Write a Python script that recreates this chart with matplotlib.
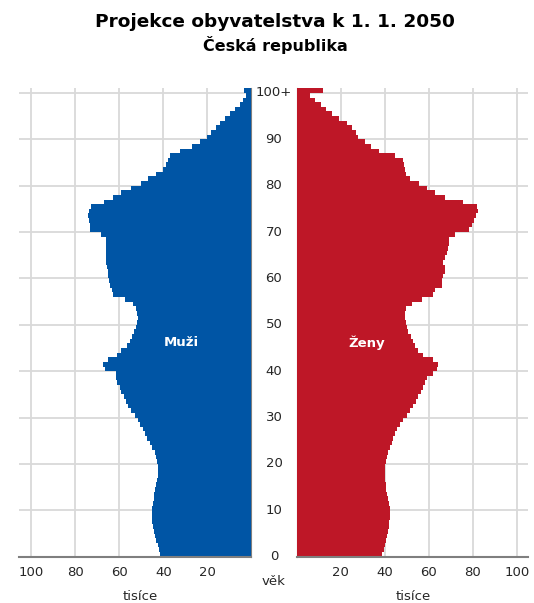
import numpy as np
import matplotlib
import matplotlib.pyplot as plt
import matplotlib.transforms as mtransforms

matplotlib.use('Agg')

# věk 0 .. 100+ (tisíce osob)
ages = np.arange(0, 101)

muzi = [41.4, 42.0, 42.6, 43.2, 43.8, 44.3, 44.7, 45.0, 45.2, 45.2,
        45.0, 44.7, 44.4, 44.1, 43.6, 43.2, 42.9, 42.4, 42.3, 42.3,
        42.7, 43.2, 44.0, 45.0, 46.2, 47.3, 48.2, 49.3, 50.5, 51.5,
        53.0, 54.5, 56.1, 56.8, 58.0, 59.1, 59.9, 61.1, 61.4, 61.7,
        66.7, 67.5, 65.2, 61.1, 59.1, 56.4, 55.3, 54.3, 53.4, 52.6,
        52.0, 51.5, 51.8, 52.3, 53.8, 57.6, 62.9, 63.2, 64.4, 64.7,
        65.2, 65.2, 65.6, 66.0, 66.0, 66.2, 66.2, 65.9, 66.2, 68.2,
        73.2, 73.2, 73.8, 74.1, 73.8, 72.7, 67.1, 62.9, 59.1, 54.5,
        50.0, 47.0, 43.2, 40.2, 38.6, 37.9, 36.8, 32.6, 26.8, 23.5,
        20.2, 18.2, 16.2, 14.4, 12.1, 9.9, 7.6, 5.3, 3.8, 2.5,
        3.5]

zeny = [38.9, 39.6, 40.1, 40.6, 41.0, 41.5, 41.8, 42.1, 42.2, 42.4,
        42.2, 41.9, 41.5, 41.0, 40.7, 40.4, 40.1, 39.9, 39.9, 40.1,
        40.4, 40.9, 41.6, 42.4, 43.1, 43.9, 44.6, 45.7, 46.9, 48.4,
        49.9, 51.5, 53.0, 54.2, 55.2, 56.5, 57.5, 58.3, 59.0, 62.0,
        63.6, 64.3, 62.0, 57.5, 55.2, 53.7, 52.7, 51.8, 50.7, 49.9,
        49.5, 49.3, 49.3, 49.6, 52.2, 56.8, 62.0, 62.8, 65.9, 65.9,
        66.6, 67.4, 67.5, 66.6, 67.4, 68.1, 68.9, 69.3, 69.3, 71.9,
        78.4, 79.5, 80.5, 81.5, 82.5, 81.8, 75.4, 67.4, 62.8, 59.0,
        55.7, 51.5, 49.6, 49.2, 48.7, 48.1, 44.6, 37.5, 33.7, 31.0,
        27.7, 26.9, 24.9, 23.0, 19.3, 15.9, 13.3, 10.9, 8.3, 6.0,
        11.8]

age_ticks = [0, 10, 20, 30, 40, 50, 60, 70, 80, 90, 100]
age_labels = ['0', '10', '20', '30', '40', '50', '60', '70', '80', '90', '100+']
x_ticks = [20, 40, 60, 80, 100]

blue = '#0055a5'
red = '#be1727'
grid_c = '#d9d9d9'
axis_c = '#7f7f7f'
text_c = '#262626'
fs = 9.5

fig = plt.figure(figsize=(5.34, 6.03), dpi=100)
ax_m = fig.add_axes([0.0356, 0.0768, 0.4352, 0.7768])
ax_z = fig.add_axes([0.5558, 0.0768, 0.4330, 0.7768])

ax_m.barh(ages, muzi, height=1.0, align='edge', color=blue, linewidth=0, zorder=3)
ax_z.barh(ages, zeny, height=1.0, align='edge', color=red, linewidth=0, zorder=3)

ax_m.set_xlim(105.6, 0)
ax_z.set_xlim(0, 105.1)

for ax in (ax_m, ax_z):
    ax.set_ylim(0, 101)
    ax.set_xticks(x_ticks)
    ax.set_xticklabels([str(t) for t in x_ticks], fontsize=fs, color=text_c)
    ax.set_yticks(age_ticks)
    ax.set_yticklabels([])
    ax.tick_params(length=0, pad=7)
    ax.grid(True, color=grid_c, linewidth=1.3, zorder=0)
    ax.set_axisbelow(True)
    for s in ax.spines.values():
        s.set_visible(False)
    ax.spines['bottom'].set_visible(True)
    ax.spines['bottom'].set_color(axis_c)
    ax.spines['bottom'].set_linewidth(1.5)
    ax.spines['bottom'].set_zorder(4)

ax_m.spines['right'].set_visible(True)
ax_m.spines['right'].set_color(axis_c)
ax_z.spines['left'].set_visible(True)
ax_z.spines['left'].set_color(axis_c)

# popisky věku uprostřed
trans = mtransforms.blended_transform_factory(fig.transFigure, ax_z.transData)
for a, lab in zip(age_ticks, age_labels):
    fig.text(0.513, a, lab, transform=trans, ha='center', va='center',
             fontsize=fs, color=text_c)

fig.text(0.513, 0.036, 'věk', ha='center', va='center', fontsize=fs, color=text_c)
fig.text(0.262, 0.011, 'tisíce', ha='center', va='center', fontsize=fs, color=text_c)
fig.text(0.774, 0.011, 'tisíce', ha='center', va='center', fontsize=fs, color=text_c)

ax_m.text(31.7, 46.2, 'Muži', ha='center', va='center', color='white',
          fontsize=9.5, fontweight='bold', zorder=5)
ax_z.text(31.9, 46.2, 'Ženy', ha='center', va='center', color='white',
          fontsize=9.5, fontweight='bold', zorder=5)

fig.text(0.515, 0.964, 'Projekce obyvatelstva k 1. 1. 2050', ha='center', va='center',
         fontsize=13.3, fontweight='bold', color='black')
fig.text(0.515, 0.925, 'Česká republika', ha='center', va='center',
         fontsize=11.5, fontweight='bold', color='black')

fig.savefig('out.png', dpi=100)
plt.close()
